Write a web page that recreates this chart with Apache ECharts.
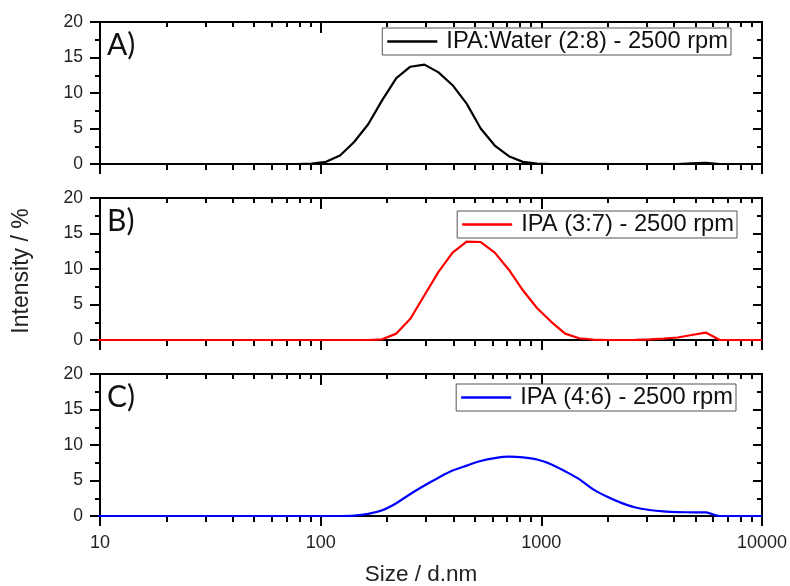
<!DOCTYPE html>
<html>
<head>
<meta charset="utf-8">
<script src="https://cdn.jsdelivr.net/npm/echarts@6/dist/echarts.min.js"></script>
<style>html,body{margin:0;padding:0;background:#fff}#c{width:790px;height:586px}</style>
</head>
<body>
<div id="c"></div>
<script>
// Size classes (d.nm)
var sizes = [8.721, 10.1, 11.7, 13.54, 15.69, 18.17, 21.04, 24.36, 28.21, 32.67, 37.84, 43.82, 50.75, 58.77, 68.06, 78.82, 91.28,
  105.7, 122.4, 141.8, 164.2, 190.1, 220.2, 255.0, 295.3, 342.0, 396.1, 458.7, 531.2, 615.1, 712.4, 825.0, 955.4,
  1106, 1281, 1484, 1718, 1990, 2305, 2669, 3091, 3580, 4145, 4801, 5560, 6439, 7456, 8635, 10000];
// Intensity (%)
var seriesA = [0,0,0,0,0,0,0,0,0,0,0,0,0,0,0,0,0.05,
  0.3,1.2,3.1,5.6,9.0,12.1,13.7,14.0,12.9,11.1,8.5,5.0,2.6,1.1,0.3,0.05,
  0,0,0,0,0,0,0,0,0,0,0.1,0.15,0,0,0,0];
var seriesB = [0,0,0,0,0,0,0,0,0,0,0,0,0,0,0,0,0,
  0,0,0,0,0.1,0.9,3.0,6.3,9.6,12.3,13.85,13.8,12.3,9.9,7.0,4.5,
  2.6,0.9,0.25,0.05,0,0,0.02,0.1,0.2,0.35,0.7,1.05,0,0,0,0];
var seriesC = [0,0,0,0,0,0,0,0,0,0,0,0,0,0,0,0,0,
  0,0,0.05,0.3,0.8,1.8,3.1,4.3,5.4,6.4,7.1,7.75,8.15,8.35,8.25,7.95,
  7.3,6.3,5.2,3.75,2.7,1.85,1.2,0.85,0.65,0.55,0.52,0.5,0,0,0,0];
var names = ['IPA:Water (2:8) - 2500 rpm', 'IPA (3:7) - 2500 rpm', 'IPA (4:6) - 2500 rpm'];
var panelLabels = ['A)', 'B)', 'C)'];
var colors = ['#000000', '#ff0000', '#0000ff'];
var xMajorTicks = [10, 100, 1000, 10000];
var xMinorTicks = [20,30,40,50,60,70,80,90,200,300,400,500,600,700,800,900,2000,3000,4000,5000,6000,7000,8000,9000];
var yTicks = [0, 5, 10, 15, 20];

var FONT = '"Liberation Sans", Arial, sans-serif';
var allData = [seriesA, seriesB, seriesC];
var tops = [22, 198, 374];
var legendRight = [59, 53, 54];
var legendTop = [28, 211, 384];

var grids = [], xAxes = [], yAxes = [], series = [], legends = [], graphics = [];
for (var g = 0; g < 3; g++) {
  grids.push({left: 100, right: 28, top: tops[g], height: 142});
  var base = {type: 'log', logBase: 10, min: 10, max: 10000, gridIndex: g, splitLine: {show: false}};
  xAxes.push(Object.assign({}, base, {
    position: 'bottom',
    axisLine: {show: true, lineStyle: {color: '#000', width: 2}},
    axisTick: {show: true, inside: false, length: 10, lineStyle: {color: '#000', width: 2}, customValues: xMajorTicks},
    axisLabel: {show: g === 2, margin: 18, fontSize: 18, color: '#222', fontFamily: FONT, customValues: xMajorTicks,
      formatter: function (v) { return String(Math.round(v)); }}
  }));
  xAxes.push(Object.assign({}, base, {
    position: 'bottom',
    axisLine: {show: false},
    axisTick: {show: true, inside: false, length: 6, lineStyle: {color: '#000', width: 2}, customValues: xMinorTicks},
    axisLabel: {show: false}
  }));
  xAxes.push(Object.assign({}, base, {
    position: 'top',
    axisLine: {show: true, lineStyle: {color: '#000', width: 2}},
    axisTick: {show: true, inside: true, length: 11, lineStyle: {color: '#000', width: 2}, customValues: xMajorTicks},
    axisLabel: {show: false}
  }));
  xAxes.push(Object.assign({}, base, {
    position: 'top',
    axisLine: {show: false},
    axisTick: {show: true, inside: true, length: 5, lineStyle: {color: '#000', width: 2}, customValues: xMinorTicks},
    axisLabel: {show: false}
  }));
  yAxes.push({
    type: 'value', gridIndex: g, position: 'left', min: 0, max: 20, interval: 5,
    splitLine: {show: false},
    axisLine: {show: true, lineStyle: {color: '#000', width: 2}},
    axisTick: {show: true, inside: false, length: 10, lineStyle: {color: '#000', width: 2}},
    minorTick: {show: true, splitNumber: 2, length: 5, lineStyle: {color: '#000', width: 2}},
    axisLabel: {margin: 17, fontSize: 17.5, color: '#222', fontFamily: FONT}
  });
  yAxes.push({
    type: 'value', gridIndex: g, position: 'right', min: 0, max: 20, interval: 5,
    splitLine: {show: false},
    axisLine: {show: true, lineStyle: {color: '#000', width: 2}},
    axisTick: {show: true, inside: true, length: 9, lineStyle: {color: '#000', width: 2}},
    minorTick: {show: true, splitNumber: 2, length: 5, lineStyle: {color: '#000', width: 2}},
    axisLabel: {show: false}
  });
  var pts = [];
  for (var i = 0; i < sizes.length; i++) pts.push([sizes[i], allData[g][i]]);
  series.push({
    name: names[g], type: 'line', xAxisIndex: 4 * g, yAxisIndex: 2 * g,
    data: pts, symbol: 'none', showSymbol: false, smooth: g === 2 ? 0.3 : false,
    clip: true, silent: true, animation: false,
    lineStyle: {color: colors[g], width: 2.2}, itemStyle: {color: colors[g]}
  });
  legends.push({
    data: [names[g]], right: legendRight[g], top: legendTop[g],
    orient: 'horizontal', backgroundColor: '#fff', borderColor: '#555', borderWidth: 1,
    padding: [1, 3, 1, 5], itemWidth: 50, itemHeight: 2.5, icon: 'rect',
    textStyle: {fontSize: 23.7, color: '#111', fontFamily: FONT, padding: [1, 0, 0, 4], lineHeight: 24},
    selectedMode: false
  });
  graphics.push({
    type: 'text', left: 107, top: tops[g] + 8,
    style: {text: panelLabels[g], font: '30px Lato, "Liberation Sans", sans-serif', fill: '#111'}
  });
}
graphics.push({
  type: 'text', x: 22, y: 271, rotation: Math.PI / 2,
  style: {text: 'Intensity / %', font: '23px ' + FONT, fill: '#222', align: 'center', verticalAlign: 'middle'}
});
graphics.push({
  type: 'text', x: 421, y: 575,
  style: {text: 'Size / d.nm', font: '22.5px ' + FONT, fill: '#222', align: 'center', verticalAlign: 'middle'}
});

var chart = echarts.init(document.getElementById('c'), null, {renderer: 'canvas'});
chart.setOption({
  animation: false,
  backgroundColor: '#fff',
  grid: grids, xAxis: xAxes, yAxis: yAxes, series: series, legend: legends, graphic: graphics
});
</script>
</body>
</html>
